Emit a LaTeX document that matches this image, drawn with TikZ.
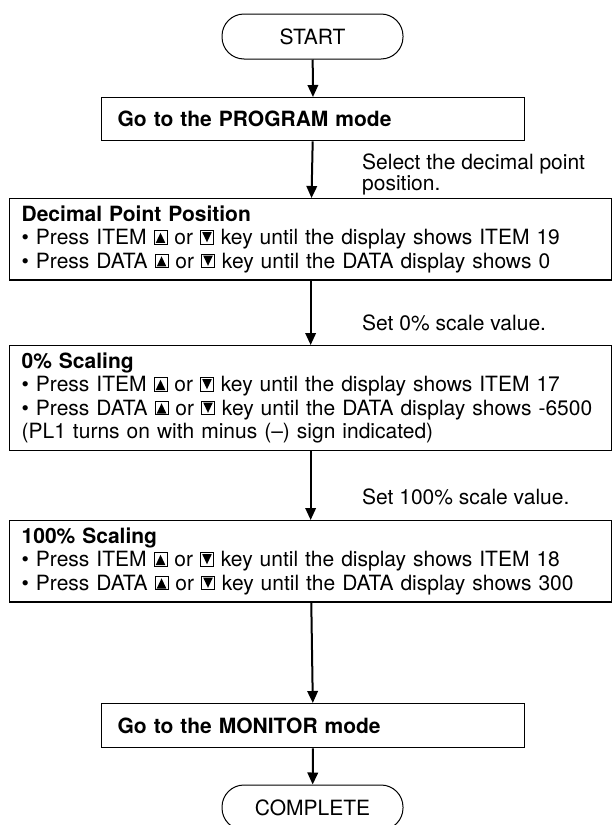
\documentclass[tikz,border=0pt]{standalone}
\usepackage{fontspec}
\setmainfont{TeX Gyre Heros}
\usetikzlibrary{arrows.meta}

% key symbols drawn inline
\newcommand{\UpKey}{\tikz[baseline=-0.5pt,x=1pt,y=1pt]{\draw[line width=0.8pt] (0,0) rectangle (13,13.5); \fill (1.7,1.3) -- (11.3,1.3) -- (6.5,11.5) -- cycle;}}
\newcommand{\DownKey}{\tikz[baseline=-0.5pt,x=1pt,y=1pt]{\draw[line width=0.8pt] (0,0) rectangle (13,13.5); \fill (1.7,12.2) -- (11.3,12.2) -- (6.5,2) -- cycle;}}
\newcommand{\FlowFont}{\fontsize{21}{23.5}\selectfont}

\begin{document}
\begin{tikzpicture}[x=1pt,y=-1pt]
\tikzset{
  term/.style={draw, line width=1pt, rounded corners=22pt, minimum width=181pt, minimum height=45pt, font=\FlowFont},
  stepbox/.style={draw, line width=1.3pt, anchor=north west, align=left, inner xsep=12pt, inner ysep=7pt, font=\FlowFont},
  note/.style={anchor=north west, align=left, inner sep=0pt, font=\fontsize{21}{21}\selectfont},
  flow/.style={line width=2pt, -{Triangle[length=12pt,width=10.5pt]}}
}
\useasboundingbox (0,0) rectangle (615,825);

\node[term] (start) at (312.5,36.5) {START};

\node[stepbox, inner xsep=16pt, text width=391pt, minimum height=43pt] (prog) at (101,97) {\textbf{Go to the PROGRAM mode}};
\node[note] (selnote) at (362,154) {Select the decimal point\\position.};

\node[stepbox, text width=578pt] (point) at (9,198) {\textbf{Decimal Point Position}\\
• Press ITEM \UpKey{} or \DownKey{} key until the display shows ITEM 19\\
• Press DATA \UpKey{} or \DownKey{} key until the DATA display shows 0};
\node[note] (zeronote) at (362,315) {Set 0\% scale value.};

\node[stepbox, text width=578pt] (zero) at (9,345) {\textbf{0\% Scaling}\\
• Press ITEM \UpKey{} or \DownKey{} key until the display shows ITEM 17\\
• Press DATA \UpKey{} or \DownKey{} key until the DATA display shows \mbox{-6500}\\
(PL1 turns on with minus (–) sign indicated)};
\node[note] (fullnote) at (362,489) {Set 100\% scale value.};

\node[stepbox, text width=578pt] (full) at (9,520) {\textbf{100\% Scaling}\\
• Press ITEM \UpKey{} or \DownKey{} key until the display shows ITEM 18\\
• Press DATA \UpKey{} or \DownKey{} key until the DATA display shows 300};

\node[stepbox, inner xsep=16pt, text width=391pt, minimum height=44pt] (mon) at (101,703) {\textbf{Go to the MONITOR mode}};

\node[term] (done) at (312.5,807.5) {COMPLETE};

\draw[flow] (start) -- (prog);
\draw[flow] (prog) -- (point);
\draw[flow] (point) -- (zero);
\draw[flow] (zero) -- (full);
\draw[flow] (full) -- (mon);
\draw[flow] (mon) -- (done);
\end{tikzpicture}
\end{document}
